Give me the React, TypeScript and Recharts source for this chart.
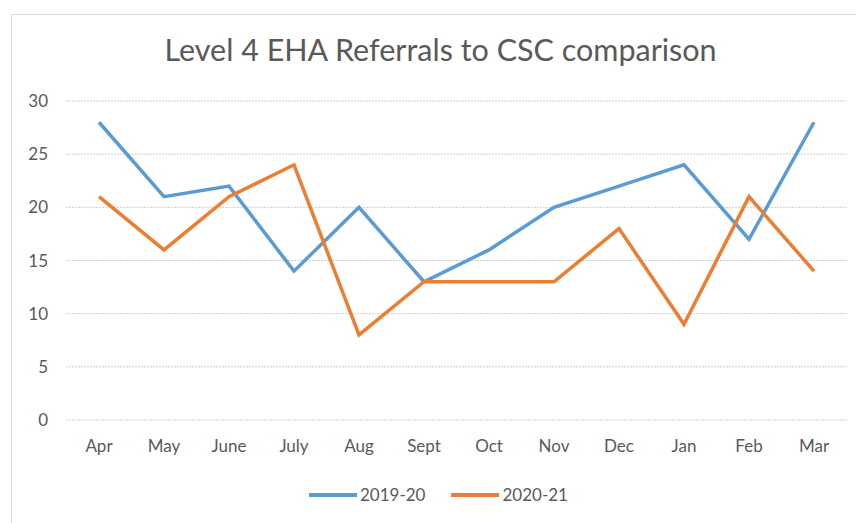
import { LineChart, Line, XAxis, YAxis, CartesianGrid } from 'recharts';

const months = ['Apr', 'May', 'June', 'July', 'Aug', 'Sept', 'Oct', 'Nov', 'Dec', 'Jan', 'Feb', 'Mar'];
const referrals2019 = [28, 21, 22, 14, 20, 13, 16, 20, 22, 24, 17, 28];
const referrals2020 = [21, 16, 21, 24, 8, 13, 13, 13, 18, 9, 21, 14];
const yTicks = [0, 5, 10, 15, 20, 25, 30];

const seriesList = [
  { key: 'y2019', name: '2019-20', color: '#5B9BD5' },
  { key: 'y2020', name: '2020-21', color: '#ED7D31' },
];

const data = months.map((m, i) => ({ month: m, y2019: referrals2019[i], y2020: referrals2020[i] }));

const FONT = 'Lato, "Open Sans", sans-serif';
const TEXT = '#595959';

export default function App() {
  return (
    <div style={{ position: 'fixed', top: 0, left: 0, width: 856, height: 523, background: '#fff', overflow: 'hidden', fontFamily: FONT }}>
      <div style={{ position: 'absolute', left: 11, top: 14, width: 900, height: 600, border: '1px solid #d9d9d9' }} />
      <div style={{ position: 'absolute', left: 0, width: 881, top: 29, textAlign: 'center', fontSize: 30.5, color: TEXT, lineHeight: '40px' }}>
        Level 4 EHA Referrals to CSC comparison
      </div>
      <div style={{ position: 'absolute', top: 0, left: 0 }}>
        <LineChart width={856} height={523} data={data} margin={{ top: 101, right: 9, bottom: 63, left: 0 }}>
          <CartesianGrid vertical={false} stroke="#d0d0d0" strokeDasharray="2 1" />
          <XAxis
            dataKey="month"
            height={40}
            axisLine={false}
            tickLine={false}
            tickSize={0}
            tickMargin={20}
            padding={{ left: 33, right: 33 }}
            tick={{ fill: TEXT, fontSize: 17, fontFamily: FONT }}
            interval={0}
          />
          <YAxis
            width={66}
            domain={[0, 30]}
            ticks={yTicks}
            axisLine={false}
            tickLine={false}
            tickSize={0}
            tickMargin={18}
            tick={{ fill: TEXT, fontSize: 17, fontFamily: FONT }}
          />
          {seriesList.map((s) => (
            <Line
              key={s.key}
              type="linear"
              dataKey={s.key}
              name={s.name}
              stroke={s.color}
              strokeWidth={3.5}
              dot={false}
              isAnimationActive={false}
            />
          ))}
        </LineChart>
      </div>
      <div style={{ position: 'absolute', top: 484, left: 309, display: 'flex', alignItems: 'center', fontSize: 17, color: TEXT }}>
        {seriesList.map((s) => (
          <div key={s.key} style={{ display: 'flex', alignItems: 'center', marginRight: 26 }}>
            <span style={{ display: 'inline-block', width: 48, height: 4, background: s.color, marginRight: 3 }} />
            <span>{s.name}</span>
          </div>
        ))}
      </div>
    </div>
  );
}
